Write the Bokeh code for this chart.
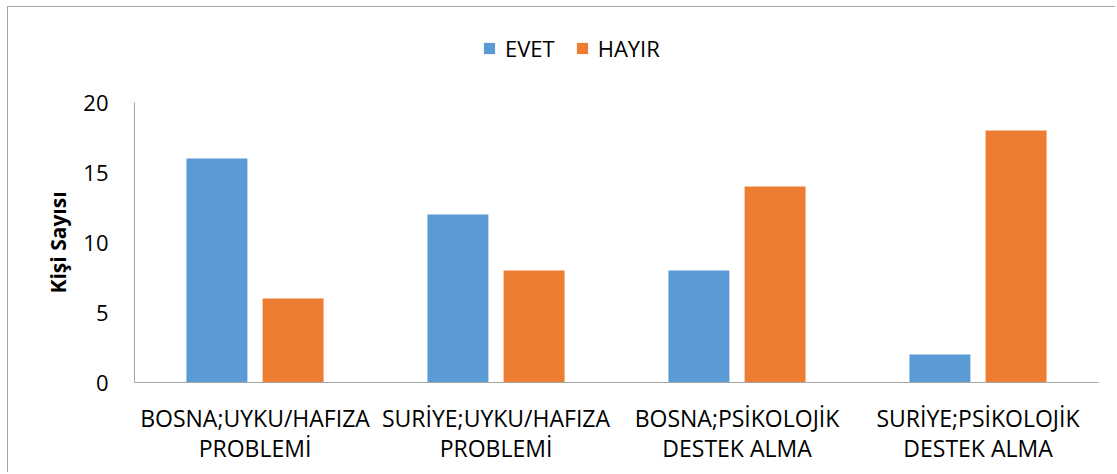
from bokeh.plotting import figure
from bokeh.models import ColumnDataSource, Range1d, FixedTicker, LinearAxis, Title
from bokeh.transform import dodge
from bokeh.embed import file_html
from bokeh.resources import INLINE

# category labels, split into their two printed lines
tick_line1 = ["BOSNA;UYKU/HAFIZA", "SURİYE;UYKU/HAFIZA", "BOSNA;PSİKOLOJİK", "SURİYE;PSİKOLOJİK"]
tick_line2 = ["PROBLEMİ", "PROBLEMİ", "DESTEK ALMA", "DESTEK ALMA"]
evet = [16, 12, 8, 2]
hayir = [6, 8, 14, 18]
y_ticks = [0, 5, 10, 15, 20]
series_names = ["EVET", "HAYIR"]
y_title = "Kişi Sayısı"

FONT = "Open Sans"
BLUE = "#5B9BD5"
ORANGE = "#ED7D31"
AXIS_GRAY = "#a6a6a6"

# frame spans the whole height above the x axis so the legend sits inside it;
# the visible value axis runs 0..20 over the lower 280 px
FRAME_H = 375
AXIS_H = 280
y_top = y_ticks[-1] * FRAME_H / AXIS_H

n = len(tick_line1)
idx = list(range(n))
source = ColumnDataSource(dict(idx=idx, evet=evet, hayir=hayir))

p = figure(width=1108, height=466, output_backend="svg", toolbar_location=None,
           x_range=Range1d(-0.5, n - 0.5),
           y_range=Range1d(0, y_top),
           min_border_left=126, min_border_right=18, min_border_top=0, min_border_bottom=91)
p.styles = {"margin-left": "7px", "margin-top": "6px",
            "border-left": "1px solid " + AXIS_GRAY, "border-top": "1px solid " + AXIS_GRAY}

p.vbar(x=dodge("idx", -0.158), top="evet", width=0.253, source=source,
       fill_color=BLUE, line_color=None, legend_label=series_names[0])
p.vbar(x=dodge("idx", 0.158), top="hayir", width=0.253, source=source,
       fill_color=ORANGE, line_color=None, legend_label=series_names[1])

p.outline_line_color = None
p.xgrid.grid_line_color = None
p.ygrid.grid_line_color = None

# y axis
p.yaxis.ticker = FixedTicker(ticks=y_ticks)
p.yaxis.bounds = (y_ticks[0], y_ticks[-1])
p.yaxis.axis_line_color = AXIS_GRAY
p.yaxis.major_tick_line_color = None
p.yaxis.minor_tick_line_color = None
p.yaxis.major_tick_out = 0
p.yaxis.major_tick_in = 0
p.yaxis.major_label_standoff = 26
p.yaxis.major_label_text_font = FONT
p.yaxis.major_label_text_font_size = "22px"
p.yaxis.major_label_text_color = "#000000"

# y title, centred on the visible 0..20 part of the axis
yt = Title(text=y_title, align="left", offset=89, standoff=18,
           text_font=FONT, text_font_style="bold", text_font_size="21px",
           text_color="#000000")
p.add_layout(yt, "left")


def style_x(ax, labels, standoff, line_color):
    ax.ticker = FixedTicker(ticks=idx)
    ax.major_label_overrides = {i: t for i, t in zip(idx, labels)}
    ax.axis_line_color = line_color
    ax.major_tick_line_color = None
    ax.minor_tick_line_color = None
    ax.major_tick_out = 0
    ax.major_tick_in = 0
    ax.major_label_text_font = FONT
    ax.major_label_text_font_size = "23px"
    ax.major_label_text_color = "#000000"
    ax.major_label_standoff = standoff


# x axis: first line of each label; a second axis below carries the second line
style_x(p.xaxis[0], tick_line1, 19, AXIS_GRAY)
xb = LinearAxis()
style_x(xb, tick_line2, -5, None)
p.add_layout(xb, "below")

# legend (inside the tall frame, above the bars)
lg = p.legend[0]
lg.orientation = "horizontal"
lg.location = (348, 319)
lg.padding = 0
lg.margin = 0
lg.spacing = 20
lg.label_standoff = 9
lg.glyph_width = 14
lg.glyph_height = 14
lg.label_text_font = FONT
lg.label_text_font_size = "22px"
lg.label_text_color = "#000000"
lg.border_line_color = None
lg.background_fill_alpha = 0

open("out.html", "w").write(file_html(p, INLINE))
